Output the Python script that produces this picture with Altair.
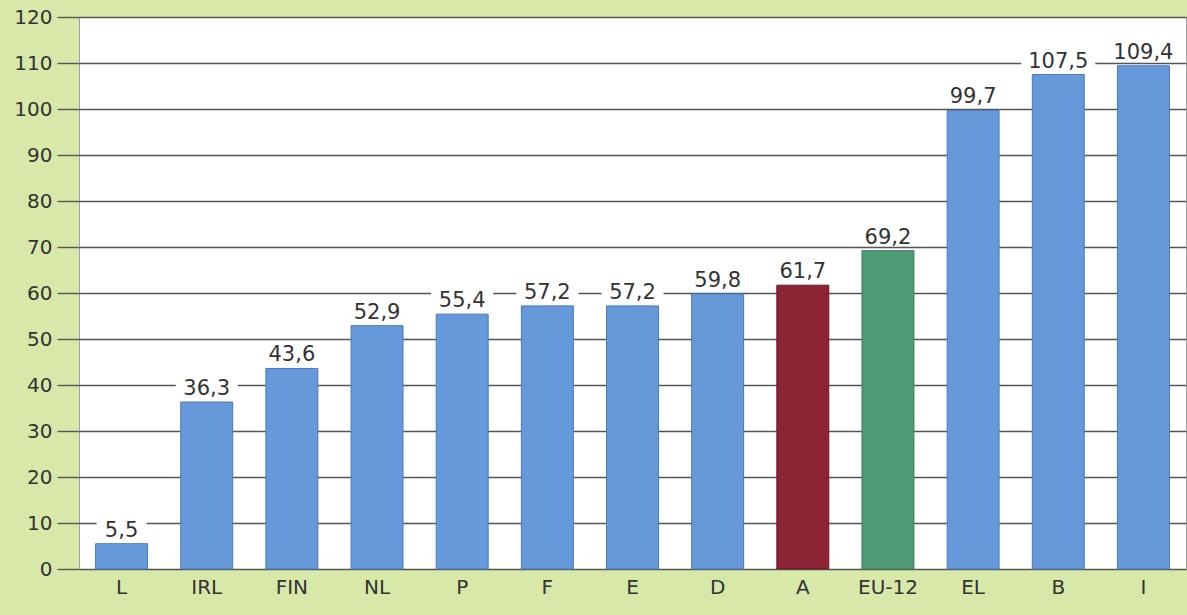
import altair as alt
import pandas as pd

# Country codes in display order, their values and the printed labels
countries = ["L", "IRL", "FIN", "NL", "P", "F", "E", "D", "A", "EU-12", "EL", "B", "I"]
values = [5.5, 36.3, 43.6, 52.9, 55.4, 57.2, 57.2, 59.8, 61.7, 69.2, 99.7, 107.5, 109.4]
labels = ["5,5", "36,3", "43,6", "52,9", "55,4", "57,2", "57,2", "59,8", "61,7",
          "69,2", "99,7", "107,5", "109,4"]
groups = ["other"] * 8 + ["A", "EU"] + ["other"] * 3

df = pd.DataFrame({"country": countries, "value": values,
                   "label": labels, "group": groups})

FONT = "DejaVu Sans"
TEXT = "#333333"

x = alt.X("country:N", sort=countries, title=None,
          scale=alt.Scale(paddingInner=0.39, paddingOuter=0.195),
          axis=alt.Axis(labelAngle=0, ticks=False, domain=False,
                        labelPadding=8, labelFontSize=20, labelFont=FONT,
                        labelColor=TEXT))
y = alt.Y("value:Q", title=None,
          scale=alt.Scale(domain=[0, 120], nice=False),
          axis=alt.Axis(values=list(range(0, 121, 10)), grid=True,
                        gridColor="#555555", gridWidth=1.4,
                        tickColor="#555555", tickWidth=1.4, tickSize=22,
                        domain=False, labelPadding=5, labelFontSize=20,
                        labelFont=FONT, labelColor=TEXT))

base = alt.Chart(df)

bars = base.mark_bar(strokeWidth=1).encode(
    x=x, y=y,
    color=alt.Color("group:N", legend=None,
                    scale=alt.Scale(domain=["other", "A", "EU"],
                                    range=["#6699da", "#8c2433", "#4f9a76"])),
    stroke=alt.Stroke("group:N", legend=None,
                      scale=alt.Scale(domain=["other", "A", "EU"],
                                      range=["#4a78b8", "#6a1826", "#3c7c5e"])),
)

# white patch behind each value label, interrupting the gridline
boxes = base.transform_calculate(
    boxw="length(datum.label) * 12 + 14"
).mark_tick(color="white", thickness=20, opacity=1, yOffset=-15).encode(
    x=alt.X("country:N", sort=countries),
    y=alt.Y("value:Q"),
    size=alt.Size("boxw:Q", scale=None, legend=None),
)

text = base.mark_text(baseline="alphabetic", dy=-7, fontSize=21,
                      font=FONT, color=TEXT).encode(
    x=alt.X("country:N", sort=countries),
    y=alt.Y("value:Q"),
    text="label:N",
)

chart = alt.layer(bars, boxes, text).properties(
    width=1107, height=552,
    background="#d7e8a9",
    autosize=alt.AutoSizeParams(type="none"),
    padding={"left": 79, "top": 17, "right": 1, "bottom": 46},
).configure_view(fill="white", stroke="#a0a0a0", strokeWidth=1)

chart.save("out.html", embed_options={"renderer": "svg", "actions": False})
